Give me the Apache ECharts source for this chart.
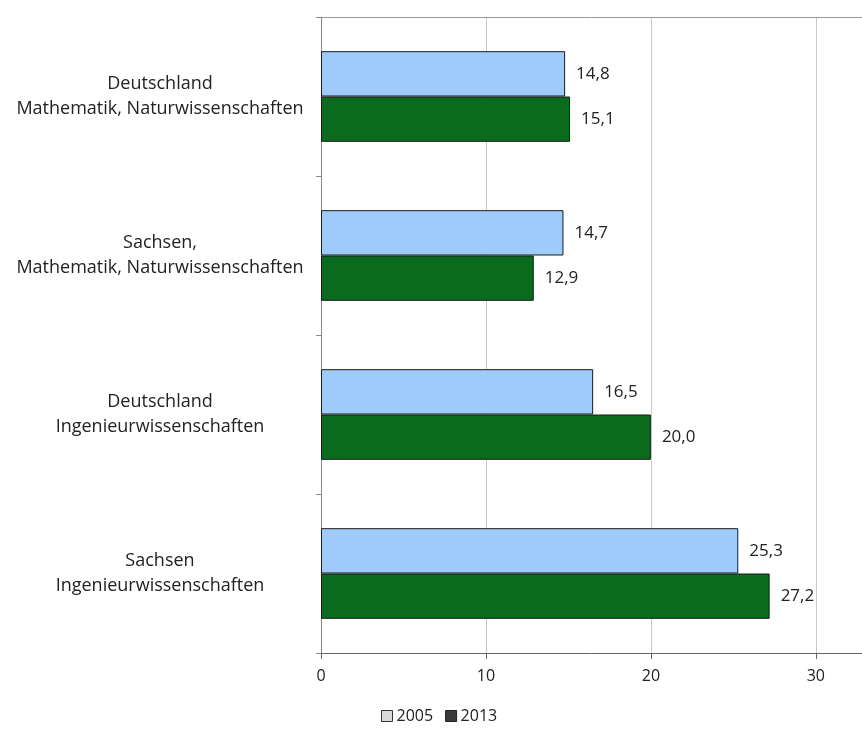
<!DOCTYPE html>
<html>
<head>
<meta charset="utf-8">
<script src="https://cdn.jsdelivr.net/npm/echarts@6/dist/echarts.min.js"></script>
<style>html,body{margin:0;padding:0;background:#fff}#c{width:862px;height:731px}</style>
</head>
<body>
<div id="c"></div>
<script>
const categories = [
  'Deutschland\nMathematik, Naturwissenschaften',
  'Sachsen,\nMathematik, Naturwissenschaften',
  'Deutschland\nIngenieurwissenschaften',
  'Sachsen\nIngenieurwissenschaften'
];
const values2005 = [14.8, 14.7, 16.5, 25.3];
const values2013 = [15.1, 12.9, 20.0, 27.2];
const xTicks = [0, 10, 20, 30];
const seriesNames = ['2005', '2013'];

const font = 'Open Sans, Liberation Sans, sans-serif';
const fmt = p => p.value.toFixed(1).replace('.', ',');

const chart = echarts.init(document.getElementById('c'), null, {renderer: 'canvas'});
chart.setOption({
  animation: false,
  backgroundColor: '#fff',
  grid: {left: 321, top: 17, bottom: 78, right: 0, containLabel: false},
  legend: {
    bottom: 2, left: 376,
    icon: 'rect', itemWidth: 11, itemHeight: 11, itemGap: 12,
    textStyle: {fontFamily: font, fontSize: 16, color: '#222', padding: [0, 0, 0, -1]},
    data: [
      {name: seriesNames[0], itemStyle: {color: '#d9d9d9', borderColor: '#333', borderWidth: 1}},
      {name: seriesNames[1], itemStyle: {color: '#3a3a3a', borderColor: '#222', borderWidth: 1}}
    ]
  },
  xAxis: [{
    type: 'value', min: 0, max: 32.8, interval: 10, position: 'bottom',
    axisLine: {show: true, lineStyle: {color: '#666', width: 1}},
    axisTick: {show: true, length: 6, lineStyle: {color: '#666'}, customValues: xTicks},
    axisLabel: {
      fontFamily: font, fontSize: 16, color: '#222', margin: 15,
      customValues: xTicks,
      formatter: v => (xTicks.indexOf(v) >= 0 ? String(v) : '')
    },
    splitLine: {show: true, lineStyle: {color: '#c8c8c8', width: 1}}
  }, {
    type: 'value', min: 0, max: 32.8, interval: 10, position: 'top',
    axisLine: {show: true, lineStyle: {color: '#999', width: 1}},
    axisTick: {show: false}, axisLabel: {show: false}, splitLine: {show: false}
  }],
  yAxis: {
    type: 'category', data: categories, inverse: true,
    axisLine: {show: true, lineStyle: {color: '#888', width: 1}},
    axisTick: {show: true, length: 5, lineStyle: {color: '#888'}},
    axisLabel: {
      fontFamily: font, fontSize: 18, color: '#222', align: 'center',
      margin: 161, lineHeight: 25
    }
  },
  series: [{
    name: seriesNames[0], type: 'bar', data: values2005, xAxisIndex: 0,
    barGap: '0%', barCategoryGap: '43%',
    itemStyle: {color: '#9fcbfa', borderColor: '#1a1a1a', borderWidth: 1},
    label: {show: true, position: 'right', distance: 11, formatter: fmt,
      fontFamily: font, fontSize: 17, color: '#222'}
  }, {
    name: seriesNames[1], type: 'bar', data: values2013, xAxisIndex: 0,
    barGap: '0%', barCategoryGap: '43%',
    itemStyle: {color: '#0a6a1e', borderColor: '#1a1a1a', borderWidth: 1},
    label: {show: true, position: 'right', distance: 11, formatter: fmt,
      fontFamily: font, fontSize: 17, color: '#222'}
  }]
});
</script>
</body>
</html>
